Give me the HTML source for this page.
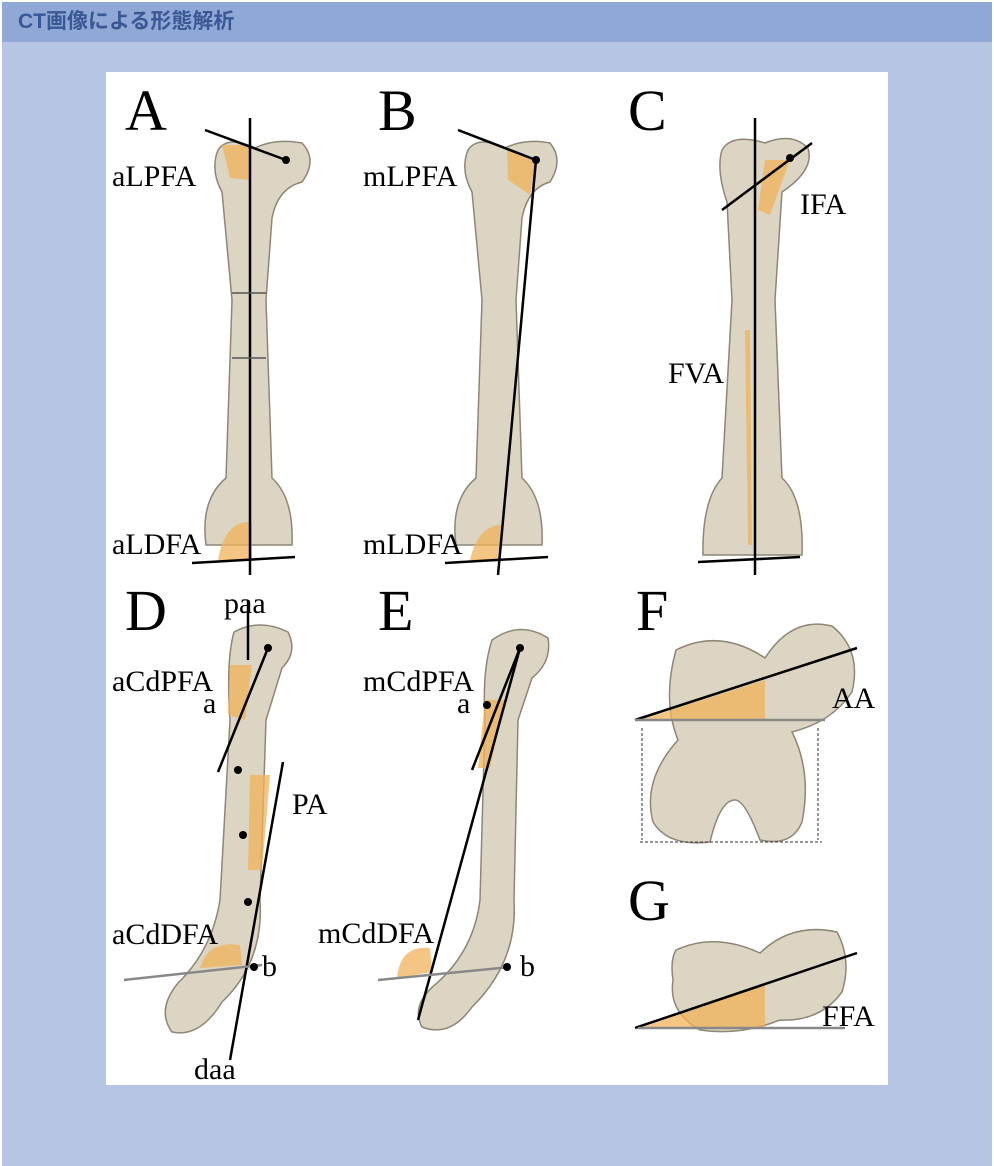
<!DOCTYPE html>
<html><head><meta charset="utf-8"><style>
body{margin:0;width:994px;height:1166px;background:#fff;overflow:hidden}
#outer{position:absolute;left:2px;top:2px;width:990px;height:1164px;background:#b7c5e5}
#hdr{position:absolute;left:0;top:0;width:990px;height:40px;background:#8fa8d6;color:#3b5896;font:bold 21px "Liberation Sans","Noto Sans CJK JP",sans-serif;line-height:40px;text-indent:16px}
svg{position:absolute;left:106px;top:72px}
text{font-family:"Liberation Serif",serif;fill:#000}
</style></head><body>
<div id="outer"><div id="hdr">CT画像による形態解析</div></div>
<svg width="782" height="1013" viewBox="106 72 782 1013">
<rect x="106" y="72" width="782" height="1013" fill="#fff"/>
<g fill="#dcd5c3" stroke="#8f8676" stroke-width="1.5">
<path d="M218 150 Q228 135 255 148 Q275 138 302 143 Q318 160 302 182 Q278 188 272 218 L266 300 L272 478 Q294 498 292 545 L206 545 Q200 500 226 478 L232 300 L222 192 Q210 170 218 150Z"/>
<path d="M468 150 Q478 135 505 148 Q525 138 550 143 Q564 160 550 182 Q528 188 522 218 L516 300 L522 478 Q544 498 542 545 L456 545 Q450 500 476 478 L482 300 L472 192 Q460 170 468 150Z"/>
<path d="M722 150 Q732 133 765 143 Q792 132 808 148 Q815 170 782 192 L775 300 L782 478 Q804 498 802 555 L703 555 Q702 500 722 478 L732 300 L727 202 Q716 170 722 150Z"/>
<path d="M234 632 Q260 618 288 632 Q298 652 282 668 L266 720 L260 900 Q264 962 222 1002 Q200 1038 172 1032 Q156 1010 178 983 Q212 950 220 900 L230 720 Q226 660 234 632Z"/>
<path d="M492 640 Q520 620 548 638 Q552 662 532 678 L518 720 L514 900 Q518 962 472 1007 Q450 1038 422 1027 Q410 1005 437 983 Q474 950 480 900 L485 720 Q482 670 492 640Z"/>
<path d="M676 650 Q720 628 765 658 Q792 616 832 626 Q862 650 852 692 Q832 722 792 732 Q812 772 802 822 Q792 847 760 840 Q745 800 735 800 Q720 800 710 842 Q668 847 653 822 Q642 780 678 740 Q662 700 676 650Z"/>
<path d="M676 950 Q715 932 760 953 Q792 922 837 932 Q852 960 842 992 Q820 1022 780 1020 Q740 1036 700 1030 Q668 1012 673 980 Q670 960 676 950Z"/>
</g>
<g fill="#f0b25a" opacity="0.75">
<path d="M222 145 L250 145 L250 180 L230 178Z"/>
<path d="M218 560 Q225 520 252 522 L252 560Z"/>
<path d="M507 148 L536 160 L530 195 L508 180Z"/>
<path d="M470 560 Q478 525 502 525 L500 560Z"/>
<path d="M765 160 L790 160 L770 215 L758 210Z"/>
<path d="M745 330 L750 330 L752 545 L748 545Z"/>
<path d="M230 665 L252 665 L245 720 L228 715Z"/>
<path d="M250 775 L270 775 L262 870 L248 870Z"/>
<path d="M200 968 Q208 940 240 945 L242 965Z"/>
<path d="M485 700 L505 700 L490 768 L478 768Z"/>
<path d="M397 978 Q400 945 430 948 L432 972Z"/>
<path d="M640 720 L765 680 L765 720Z"/>
<path d="M640 1028 L765 985 L765 1028Z"/>
</g>
<g stroke="#000" stroke-width="2.5" fill="none">
<line x1="250" y1="118" x2="250" y2="575"/>
<line x1="205" y1="130" x2="286" y2="160"/>
<line x1="192" y1="563" x2="295" y2="557"/>
<line x1="458" y1="130" x2="536" y2="160"/>
<line x1="536" y1="160" x2="498" y2="575"/>
<line x1="445" y1="563" x2="548" y2="557"/>
<line x1="755" y1="118" x2="755" y2="575"/>
<line x1="722" y1="210" x2="812" y2="143"/>
<line x1="698" y1="562" x2="800" y2="557"/>
<line x1="248" y1="600" x2="248" y2="660"/>
<line x1="268" y1="648" x2="218" y2="772"/>
<line x1="283" y1="762" x2="230" y2="1060"/>
<line x1="520" y1="648" x2="472" y2="770"/>
<line x1="520" y1="648" x2="418" y2="1020"/>
<line x1="635" y1="720" x2="857" y2="648"/>
<line x1="635" y1="1028" x2="857" y2="953"/>
</g>
<g stroke="#888" stroke-width="2.5">
<line x1="124" y1="980" x2="262" y2="965"/>
<line x1="378" y1="980" x2="510" y2="967"/>
<line x1="635" y1="720" x2="825" y2="720"/>
<line x1="638" y1="1028" x2="845" y2="1028"/>
</g>
<g stroke="#555" stroke-width="1.5"><line x1="232" y1="293" x2="266" y2="293"/><line x1="232" y1="358" x2="266" y2="358"/></g>
<g stroke="#333" stroke-width="1" stroke-dasharray="3,2" fill="none">
<line x1="642" y1="728" x2="642" y2="840"/><line x1="818" y1="728" x2="818" y2="840"/><line x1="640" y1="842" x2="822" y2="842"/>
</g>
<g fill="#000">
<circle cx="286" cy="160" r="4"/><circle cx="536" cy="160" r="4"/><circle cx="790" cy="158" r="4"/>
<circle cx="268" cy="648" r="4"/><circle cx="238" cy="770" r="4"/><circle cx="243" cy="835" r="4"/><circle cx="248" cy="902" r="4"/><circle cx="254" cy="967" r="4"/>
<circle cx="520" cy="648" r="4"/><circle cx="487" cy="705" r="4"/><circle cx="507" cy="967" r="4"/>
</g>
<g font-size="58">
<text x="125" y="130">A</text><text x="378" y="130">B</text><text x="628" y="130">C</text>
<text x="125" y="630">D</text><text x="378" y="630">E</text><text x="636" y="630">F</text><text x="628" y="920">G</text>
</g>
<g font-size="30">
<text x="112" y="186">aLPFA</text><text x="112" y="554">aLDFA</text>
<text x="363" y="186">mLPFA</text><text x="363" y="554">mLDFA</text>
<text x="800" y="214">IFA</text><text x="668" y="383">FVA</text>
<text x="224" y="613">paa</text><text x="112" y="691">aCdPFA</text><text x="203" y="713">a</text>
<text x="292" y="814">PA</text><text x="112" y="944">aCdDFA</text><text x="262" y="976">b</text><text x="194" y="1079">daa</text>
<text x="363" y="691">mCdPFA</text><text x="457" y="713">a</text><text x="318" y="943">mCdDFA</text><text x="520" y="976">b</text>
<text x="832" y="708">AA</text><text x="822" y="1026">FFA</text>
</g>
</svg>
</body></html>
